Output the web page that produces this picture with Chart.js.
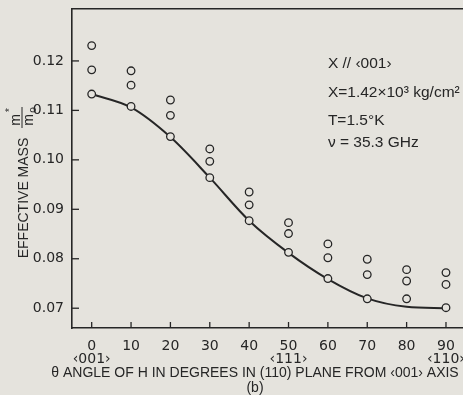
<!DOCTYPE html>
<html>
<head>
<meta charset="utf-8">
<script src="https://cdn.jsdelivr.net/npm/chart.js@4.4.1/dist/chart.umd.min.js"></script>
<style>
  html, body { margin: 0; padding: 0; background: #e5e3dd; overflow: hidden; }
  #wrap { width: 463px; height: 395px; overflow: hidden; }
</style>
</head>
<body>
<div id="wrap"><canvas id="chart" width="469" height="395"></canvas></div>
<script>
// measured points, three per angle (upper / middle / lower)
const angles = [0, 10, 20, 30, 40, 50, 60, 70, 80, 90];
const massUpper = [0.1231, 0.1180, 0.1121, 0.1022, 0.0935, 0.0873, 0.0830, 0.0799, 0.0778, 0.0772];
const massMiddle = [0.1182, 0.1151, 0.1090, 0.0997, 0.0909, 0.0851, 0.0802, 0.0768, 0.0755, 0.0748];
const massLower = [0.1133, 0.1108, 0.1047, 0.0964, 0.0877, 0.0813, 0.0760, 0.0719, 0.0719, 0.0701];

// smooth fitted curve
const fitAngles = [0, 10, 20, 30, 40, 50, 60, 70, 80, 90];
const fitMass = [0.1133, 0.1106, 0.1046, 0.0964, 0.0877, 0.0812, 0.0759, 0.0720, 0.0703, 0.0700];

const xTicks = [0, 10, 20, 30, 40, 50, 60, 70, 80, 90];
const xSubLabels = ['‹001›', '', '', '', '', '‹111›', '', '', '', '‹110›'];
const yTicks = [0.07, 0.08, 0.09, 0.10, 0.11, 0.12];

const xTitle = 'θ ANGLE OF H IN DEGREES IN (110) PLANE FROM ‹001› AXIS';
const panelLabel = '(b)';
const notes = ['X // ‹001›', 'X=1.42×10³ kg/cm²', 'T=1.5°K', 'ν = 35.3 GHz'];
const noteMass = [0.1194, 0.1135, 0.1079, 0.1034];

const ink = '#262626';
const paper = '#e5e3dd';

const points = [];
angles.forEach((a, i) => {
    points.push({ x: a, y: massUpper[i] });
    points.push({ x: a, y: massMiddle[i] });
    points.push({ x: a, y: massLower[i] });
});
const fit = fitAngles.map((a, i) => ({ x: a, y: fitMass[i] }));

const decorations = {
    id: 'decorations',
    afterDraw(chart) {
        const ctx = chart.ctx;
        const area = chart.chartArea;
        const xs = chart.scales.x;
        const ys = chart.scales.y;
        ctx.save();
        ctx.strokeStyle = ink;
        ctx.fillStyle = ink;
        ctx.lineWidth = 1.3;

        // inward tick marks
        yTicks.forEach(v => {
            const py = ys.getPixelForValue(v);
            ctx.beginPath();
            ctx.moveTo(area.left, py);
            ctx.lineTo(area.left + 7, py);
            ctx.stroke();
        });
        xTicks.forEach(v => {
            const px = xs.getPixelForValue(v);
            ctx.beginPath();
            ctx.moveTo(px, area.bottom);
            ctx.lineTo(px, area.bottom - 6);
            ctx.stroke();
        });

        // x title and panel label
        ctx.textAlign = 'center';
        ctx.textBaseline = 'middle';
        ctx.font = '14px "Liberation Sans"';
        ctx.fillText(xTitle, 255, 373);
        ctx.fillText(panelLabel, 255, 388);

        // y title
        ctx.save();
        ctx.translate(24, 198);
        ctx.rotate(-Math.PI / 2);
        ctx.fillText('EFFECTIVE MASS', 0, 0);
        ctx.restore();

        // m*/m0 fraction
        ctx.save();
        ctx.translate(22, 120);
        ctx.rotate(-Math.PI / 2);
        ctx.textBaseline = 'alphabetic';
        ctx.font = '14px "Liberation Sans"';
        ctx.fillText('m', 0, -2);
        ctx.fillText('m', 0, 10.5);
        ctx.font = '10px "Liberation Sans"';
        ctx.fillText('*', 10, -9);
        ctx.fillText('o', 10, 14);
        ctx.beginPath();
        ctx.moveTo(-8, 0);
        ctx.lineTo(13, 0);
        ctx.lineWidth = 1;
        ctx.stroke();
        ctx.restore();

        // parameter notes
        ctx.textAlign = 'left';
        ctx.font = '15.5px "Liberation Sans"';
        const nx = xs.getPixelForValue(60);
        notes.forEach((t, i) => ctx.fillText(t, nx, ys.getPixelForValue(noteMass[i])));
        ctx.restore();
    }
};

const noSidePad = s => { s.paddingLeft = 0; s.paddingRight = 0; };

new Chart(document.getElementById('chart'), {
    type: 'scatter',
    data: {
        datasets: [
            {
                data: points,
                pointStyle: 'circle',
                pointRadius: 3.8,
                pointBorderWidth: 1.3,
                pointBorderColor: ink,
                pointBackgroundColor: paper,
                showLine: false,
                order: 0
            },
            {
                data: fit,
                showLine: true,
                pointRadius: 0,
                borderColor: ink,
                borderWidth: 2,
                cubicInterpolationMode: 'monotone',
                order: 1
            }
        ]
    },
    plugins: [decorations],
    options: {
        responsive: false,
        animation: false,
        layout: { padding: 0 },
        plugins: { legend: { display: false }, tooltip: { enabled: false } },
        scales: {
            x: {
                type: 'linear',
                position: 'bottom',
                min: -5,
                max: 94.5,
                afterBuildTicks: s => { s.ticks = xTicks.map(v => ({ value: v })); },
                afterFit: s => { s.height = 67; noSidePad(s); },
                grid: { display: false, drawTicks: false },
                border: { display: true, color: ink, width: 1.6 },
                ticks: {
                    color: ink,
                    padding: 12,
                    maxRotation: 0,
                    autoSkip: false,
                    font: { family: 'DejaVu Sans', size: 14, lineHeight: 0.9 },
                    callback: (v) => {
                        const i = xTicks.indexOf(v);
                        return xSubLabels[i] ? [String(v), xSubLabels[i]] : String(v);
                    }
                }
            },
            x2: {
                type: 'linear',
                position: 'top',
                min: -5,
                max: 94.5,
                afterFit: s => { s.height = 9; noSidePad(s); },
                grid: { display: false, drawTicks: false },
                border: { display: true, color: ink, width: 1.6 },
                ticks: { display: false }
            },
            y: {
                type: 'linear',
                min: 0.066,
                max: 0.1305,
                afterBuildTicks: s => { s.ticks = yTicks.map(v => ({ value: v })); },
                afterFit: s => { s.width = 72; s.paddingTop = 0; s.paddingBottom = 0; },
                grid: { display: false, drawTicks: false },
                border: { display: true, color: ink, width: 1.6 },
                ticks: {
                    color: ink,
                    padding: 8,
                    font: { family: 'DejaVu Sans', size: 14 },
                    callback: v => v.toFixed(2)
                }
            }
        }
    }
});
</script>
</body>
</html>
